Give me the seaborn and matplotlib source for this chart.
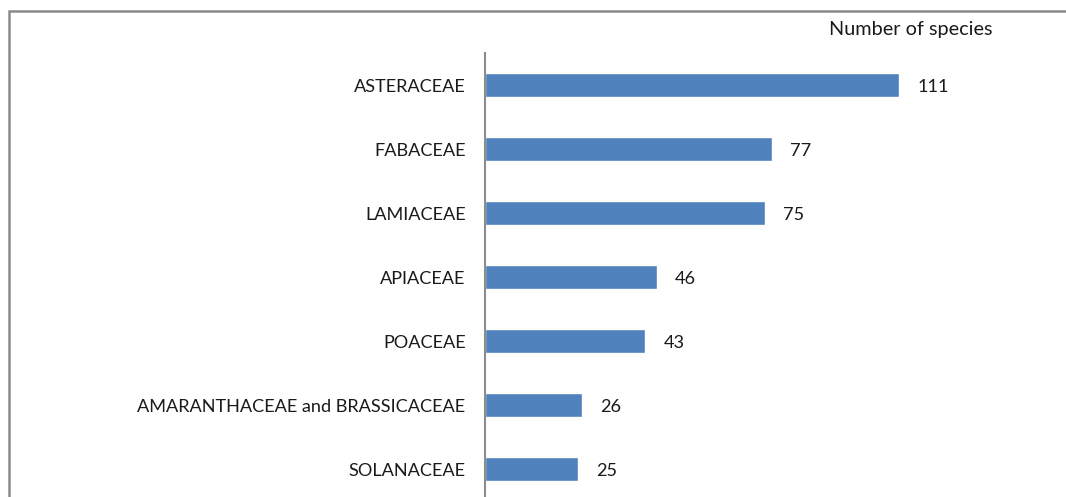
import matplotlib
matplotlib.use("Agg")
import matplotlib.pyplot as plt
from matplotlib.patches import Rectangle
import seaborn as sns
import pandas as pd

families = ["ASTERACEAE", "FABACEAE", "LAMIACEAE", "APIACEAE", "POACEAE",
            "AMARANTHACEAE and BRASSICACEAE", "SOLANACEAE"]
species_counts = [111, 77, 75, 46, 43, 26, 25]
axis_title = "Number of species"

df = pd.DataFrame({"family": families, "count": species_counts})

sns.set_theme(style="white")
plt.rcParams["font.family"] = ["Lato", "DejaVu Sans"]

W, H = 1066, 497
fig = plt.figure(figsize=(W / 100, H / 100), dpi=100)
fig.patch.set_facecolor("white")

# axes spans from the value axis at x=485 px down to the bottom edge
left, right = 485 / W, 1010 / W
top_px = 53
ax = fig.add_axes([left, 0, right - left, 1 - top_px / H])

bar_color = "#4F81BD"
sns.barplot(data=df, y="family", x="count", orient="h", color=bar_color,
            width=0.39, saturation=1, ax=ax)

xmax = (1010 - 485) / 3.73
ax.set_xlim(0, xmax)
ax.set_ylim((H - top_px) / 64 - 0.5, -0.5)

fs = 13.1
for i, v in enumerate(species_counts):
    ax.annotate(str(v), xy=(v, i), xytext=(13, -1.5), textcoords="offset points",
                va="center", ha="left", fontsize=fs, color="#1a1a1a")

ax.set_xlabel("")
ax.set_ylabel("")
ax.set_xticks([])
ax.tick_params(axis="y", length=0, pad=14, labelsize=fs, labelcolor="#1a1a1a")
for s in ["top", "right", "bottom"]:
    ax.spines[s].set_visible(False)
ax.spines["left"].set_color("#8c8c8c")
ax.spines["left"].set_linewidth(1.5)

fig.text(911 / W, 1 - 30 / H, axis_title, ha="center", va="center",
         fontsize=fs + 1.2, color="#1a1a1a")

# outer chart frame
fig.patches.append(Rectangle((9 / W, -0.1), 1.2, 1 - 11 / H + 0.1,
                             transform=fig.transFigure, fill=False,
                             edgecolor="#8a8a8a", linewidth=1.8))

fig.savefig("out.png", dpi=100)
